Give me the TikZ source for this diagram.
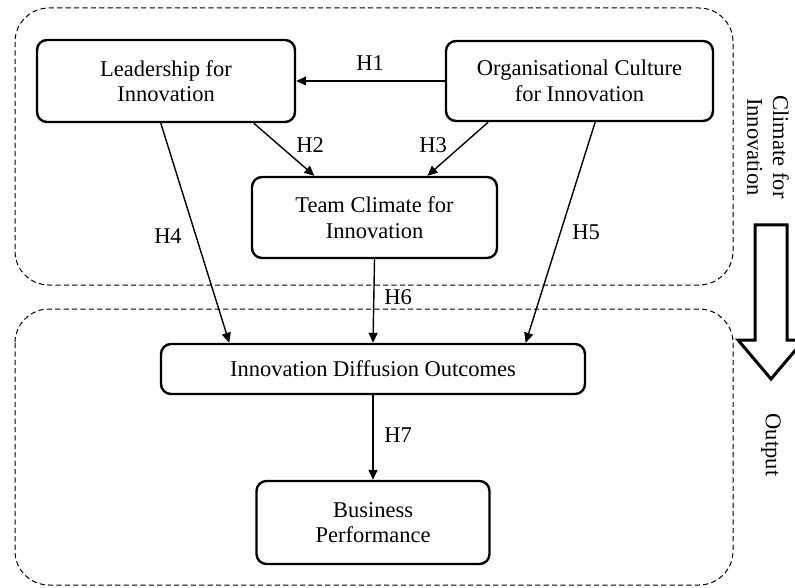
\documentclass[tikz,border=0pt]{standalone}
\usepackage{fontspec}
\setmainfont{Liberation Serif}
\usetikzlibrary{arrows.meta,calc}
\begin{document}
\begin{tikzpicture}[x=0.5pt,y=-0.5pt,
  every node/.style={font=\fontsize{11.25pt}{12.8pt}\selectfont},
  box/.style={draw,line width=1.2pt,rounded corners=5pt,align=center,inner sep=0pt},
  region/.style={draw,line width=0.5pt,dash pattern=on 2.6pt off 1.6pt,rounded corners=17pt},
  conn/.style={line width=0.7pt,-{Triangle[length=5pt,width=4.5pt]}},
  lbl/.style={inner sep=1pt}]
\useasboundingbox (0,0) rectangle (795,587);
% regions
\draw[region] (15,8) rectangle (733,285);
\draw[region] (15,309) rectangle (733,585);
% boxes
\node[box,minimum width=129pt,minimum height=41pt] (lead) at (166,81) {Leadership for\\Innovation};
\node[box,minimum width=133.5pt,minimum height=40pt] (org) at (579.5,81) {Organisational Culture\\for Innovation};
\node[box,minimum width=122.5pt,minimum height=40.5pt] (team) at (374.5,217.5) {Team Climate for\\Innovation};
\node[box,minimum width=212pt,minimum height=25pt] (ido) at (373,369) {Innovation Diffusion Outcomes};
\node[box,minimum width=116.5pt,minimum height=41.5pt] (bp) at (373,522.5) {Business\\Performance};
% connectors
\draw[conn] (org.west) -- (lead.east);
\draw[conn] ($(lead.south west)!0.837!(lead.south east)$) -- ($(team.north west)!0.257!(team.north east)$);
\draw[conn] ($(org.south west)!0.161!(org.south east)$) -- ($(team.north west)!0.714!(team.north east)$);
\draw[conn] ($(lead.south west)!0.48!(lead.south east)$) -- ($(ido.north west)!0.163!(ido.north east)$);
\draw[conn] ($(org.south west)!0.558!(org.south east)$) -- ($(ido.north west)!0.858!(ido.north east)$);
\draw[conn] (team.south) -- (ido.north);
\draw[conn] (ido.south) -- (bp.north);
% labels
\node[lbl] (h1) at (370,63) {H1};
\node[lbl] (h2) at (310,145) {H2};
\node[lbl] (h3) at (433,145) {H3};
\node[lbl] (h4) at (168,236) {H4};
\node[lbl] (h5) at (586,232) {H5};
\node[lbl] (h6) at (398,297) {H6};
\node[lbl] (h7) at (398,435) {H7};
% block arrow
\draw[line width=1.5pt,line join=miter] (755,225) -- (787,225) -- (787,340) -- (804,340) -- (771,379) -- (738,340) -- (755,340) -- cycle;
\node[rotate=-90,align=center] (clim) at (768,147) {Climate for\\Innovation};
\node[rotate=-90] (out) at (771,445) {Output};
\end{tikzpicture}
\end{document}
